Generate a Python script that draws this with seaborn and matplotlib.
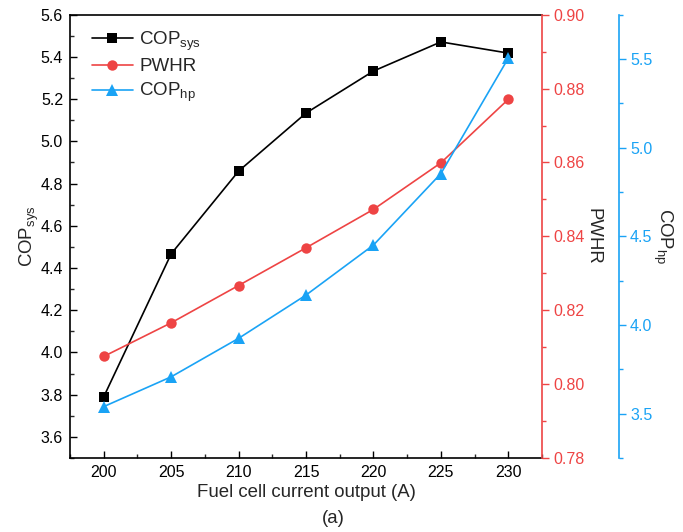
import matplotlib
matplotlib.use("Agg")
import matplotlib.pyplot as plt
from matplotlib.ticker import MultipleLocator, FormatStrFormatter
import seaborn as sns
import pandas as pd

# Fuel cell current output (A)
current = [200, 205, 210, 215, 220, 225, 230]
# System coefficient of performance
cop_sys = [3.79, 4.467, 4.859, 5.134, 5.333, 5.471, 5.418]
# Power-to-waste-heat ratio
pwhr = [0.8075, 0.8166, 0.8267, 0.8369, 0.8473, 0.8599, 0.8771]
# Heat pump coefficient of performance
cop_hp = [3.54, 3.708, 3.925, 4.169, 4.451, 4.854, 5.505]

df = pd.DataFrame({"current": current, "cop_sys": cop_sys,
                   "pwhr": pwhr, "cop_hp": cop_hp})

sns.set_style("ticks")
plt.rcParams["font.family"] = ["Liberation Sans", "DejaVu Sans"]
plt.rcParams["mathtext.fontset"] = "custom"
plt.rcParams["mathtext.rm"] = "Liberation Sans"
plt.rcParams["mathtext.it"] = "Liberation Sans:italic"

BLACK = "#000000"
RED = "#EE4444"
BLUE = "#1AA3F5"
TICK_FS = 11.5
LABEL_FS = 13.4
LEGEND_FS = 13.5

fig = plt.figure(figsize=(6.83, 5.32), dpi=100)
ax1 = fig.add_axes([0.1025, 0.139, 0.6911, 0.8334])
ax2 = ax1.twinx()
ax3 = ax1.twinx()

sns.lineplot(data=df, x="current", y="cop_sys", ax=ax1, color=BLACK,
             marker="s", markersize=6.5, markeredgewidth=0, linewidth=1.2,
             label=r"COP$_{\mathrm{sys}}$")
sns.lineplot(data=df, x="current", y="pwhr", ax=ax2, color=RED,
             marker="o", markersize=7.5, markeredgewidth=0, linewidth=1.2,
             label="PWHR")
sns.lineplot(data=df, x="current", y="cop_hp", ax=ax3, color=BLUE,
             marker="^", markersize=8, markeredgewidth=0, linewidth=1.2,
             label=r"COP$_{\mathrm{hp}}$")

# Limits and ticks
ax1.set_xlim(197.5, 232.5)
ax1.set_ylim(3.5, 5.6)
ax2.set_ylim(0.78, 0.90)
ax3.set_ylim(3.25, 5.75)

ax1.xaxis.set_major_locator(MultipleLocator(5))
ax1.xaxis.set_minor_locator(MultipleLocator(2.5))
ax1.set_yticks([3.6, 3.8, 4.0, 4.2, 4.4, 4.6, 4.8, 5.0, 5.2, 5.4, 5.6])
ax1.yaxis.set_minor_locator(MultipleLocator(0.1))
ax2.yaxis.set_major_locator(MultipleLocator(0.02))
ax2.yaxis.set_minor_locator(MultipleLocator(0.01))
ax3.set_yticks([3.5, 4.0, 4.5, 5.0, 5.5])
ax3.yaxis.set_minor_locator(MultipleLocator(0.25))

ax1.yaxis.set_major_formatter(FormatStrFormatter("%.1f"))
ax2.yaxis.set_major_formatter(FormatStrFormatter("%.2f"))
ax3.yaxis.set_major_formatter(FormatStrFormatter("%.1f"))

ax1.tick_params(axis="both", which="major", direction="in", length=5,
                width=1, labelsize=TICK_FS, colors=BLACK, pad=5)
ax1.tick_params(axis="both", which="minor", direction="in", length=3, width=1)
ax1.tick_params(axis="y", which="both", right=False)
ax1.tick_params(axis="x", which="both", top=False)

ax2.tick_params(axis="y", which="major", direction="out", length=5, width=1,
                colors=RED, labelsize=TICK_FS, pad=3)
ax2.tick_params(axis="y", which="minor", direction="out", length=3, width=1,
                colors=RED)
ax3.tick_params(axis="y", which="major", direction="out", length=5, width=1,
                colors=BLUE, labelsize=TICK_FS, pad=3)
ax3.tick_params(axis="y", which="minor", direction="out", length=3, width=1,
                colors=BLUE)

# Spines
for s in ["left", "bottom", "top"]:
    ax1.spines[s].set_visible(True)
    ax1.spines[s].set_color(BLACK)
    ax1.spines[s].set_linewidth(1.2)
ax1.spines["right"].set_visible(False)
for s in ["left", "bottom", "top"]:
    ax2.spines[s].set_visible(False)
    ax3.spines[s].set_visible(False)
ax2.spines["right"].set_visible(True)
ax2.spines["right"].set_color(RED)
ax2.spines["right"].set_linewidth(1.2)
ax3.spines["right"].set_visible(True)
ax3.spines["right"].set_color(BLUE)
ax3.spines["right"].set_linewidth(1.2)
ax3.spines["right"].set_position(("axes", 1.163))

# Axis labels
ax1.set_xlabel("Fuel cell current output (A)", fontsize=LABEL_FS, labelpad=3)
ax1.set_ylabel(r"COP$_{\mathrm{sys}}$", fontsize=LABEL_FS, labelpad=0)
ax2.set_ylabel("PWHR", fontsize=LABEL_FS, rotation=-90, labelpad=12)
ax3.set_ylabel(r"COP$_{\mathrm{hp}}$", fontsize=LABEL_FS, rotation=-90,
               labelpad=16)

# Combined legend
handles, labels = [], []
for ax in (ax1, ax2, ax3):
    h, l = ax.get_legend_handles_labels()
    handles += h
    labels += l
    if ax.get_legend() is not None:
        ax.get_legend().remove()
ax3.legend(handles, labels, loc="upper left", bbox_to_anchor=(0.01, 1.005),
           frameon=False, fontsize=LEGEND_FS, handlelength=2.2,
           handletextpad=0.35, labelspacing=0.3)

fig.text(0.4875, 0.026, "(a)", ha="center", va="center", fontsize=LABEL_FS)

fig.savefig("out.png", dpi=100)
